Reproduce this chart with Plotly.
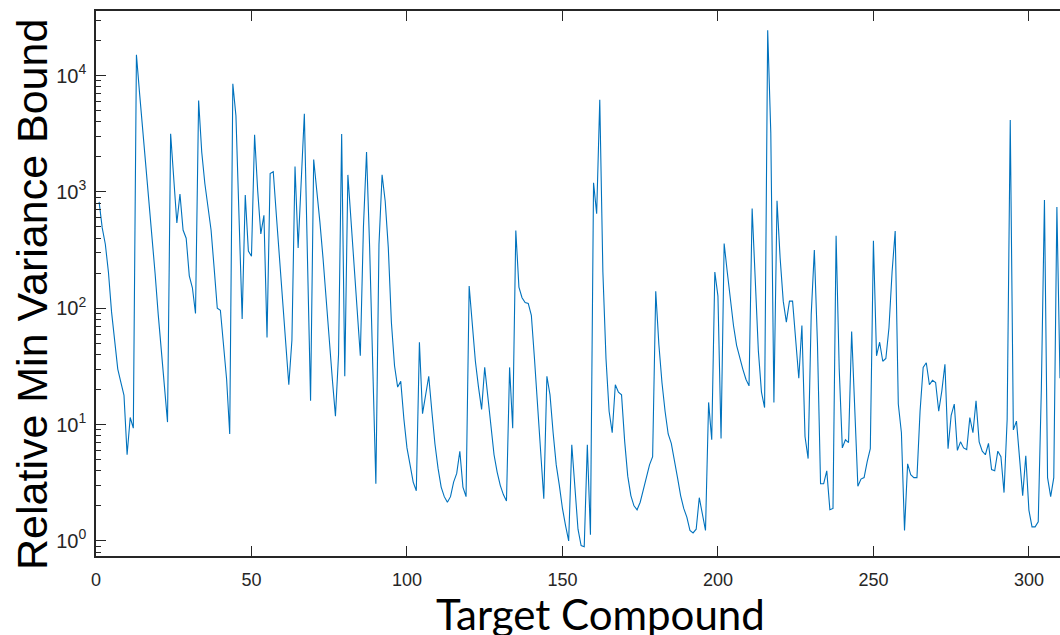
import plotly.graph_objects as go

# Relative minimum-variance bound for each target compound (compound index 1..310)
compound = list(range(1, 311))
bound = [
    820, 490, 355, 204, 93, 49, 30, 23, 17.8, 5.5,
    11.5, 9.3, 15100, 7100, 3550, 1780, 890, 420, 200, 89,
    42, 20, 10.5, 3160, 1260, 540, 960, 470, 400, 190,
    150, 90, 6100, 2200, 1180, 780, 470, 220, 100, 96,
    49, 24.5, 8.3, 8500, 4500, 700, 81, 940, 310, 280,
    3100, 1020, 435, 630, 56, 1440, 1490, 630, 275, 120,
    51, 22, 53, 1650, 330, 1260, 4700, 270, 16, 1900,
    1050, 550, 270, 115, 49, 24.5, 11.8, 40, 3150, 26,
    1400, 550, 235, 87, 39, 500, 2200, 330, 37, 3.1,
    355, 1400, 830, 330, 75, 32, 21, 23.5, 11.2, 6.3,
    4.5, 3.2, 2.7, 51, 12.4, 18, 26, 13, 6.8, 4.2,
    2.9, 2.4, 2.15, 2.4, 3.2, 3.8, 5.9, 2.9, 2.4, 155,
    76, 35, 21, 13.5, 31, 18, 9.8, 5.5, 3.9, 3.0,
    2.5, 2.2, 31, 9.3, 465, 152, 123, 112, 110, 87,
    37, 13.8, 5.5, 2.3, 26, 18, 8.5, 4.5, 3.0, 1.9,
    1.35, 1.0, 6.7, 2.75, 1.26, 0.91, 0.89, 6.7, 1.13, 1200,
    650, 6200, 205, 37, 13, 8.5, 22, 19, 18, 7.2,
    3.6, 2.45, 2.0, 1.85, 2.15, 2.75, 3.6, 4.5, 5.3, 140,
    49, 23, 13, 8.3, 6.9, 5.1, 3.5, 2.45, 1.9, 1.6,
    1.23, 1.17, 1.26, 2.35, 1.65, 1.23, 15.5, 7.4, 205, 127,
    7.6, 360, 205, 116, 71, 48, 37, 30, 24.5, 21.5,
    720, 163, 43, 19, 14, 24500, 3200, 15.5, 840, 270,
    115, 76, 115, 115, 52, 25, 71, 7.9, 5.1, 89,
    316, 50, 3.1, 3.1, 4.0, 1.85, 1.9, 420, 30, 6.3,
    7.4, 7.0, 63, 13, 2.95, 3.4, 3.5, 4.8, 6.2, 380,
    39, 51, 35, 37, 68, 205, 460, 15, 8.5, 1.23,
    4.6, 3.7, 3.5, 3.5, 13, 31, 34, 22, 24, 23,
    13, 19.5, 33, 6.2, 12, 15, 6.0, 7.1, 6.3, 6.1,
    11.5, 8.5, 16, 7.1, 5.9, 5.5, 6.9, 4.1, 4.0, 5.9,
    5.3, 2.6, 11, 4150, 9.0, 10.7, 5.5, 2.45, 5.4, 1.84,
    1.32, 1.32, 1.46, 20, 850, 3.5, 2.4, 3.5, 740, 25,
]

x_ticks = [0, 50, 100, 150, 200, 250, 300]
y_ticks = [1, 10, 100, 1000, 10000]
y_tick_text = ["10<sup>0</sup>", "10<sup>1</sup>", "10<sup>2</sup>",
               "10<sup>3</sup>", "10<sup>4</sup>"]
y_minor = [m * 10 ** e for e in range(-1, 5) for m in range(2, 10)]

AX = "#262626"
W, H = 1060, 635
L, R, T, B = 96, 0, 11, 79

fig = go.Figure()
fig.add_trace(go.Scatter(
    x=compound, y=bound, mode="lines",
    line=dict(color="#0072BD", width=1.1),
    showlegend=False, hoverinfo="x+y",
))

fig.update_layout(
    width=W, height=H,
    margin=dict(l=L, r=R, t=T, b=B, pad=0),
    paper_bgcolor="white", plot_bgcolor="white",
    xaxis=dict(
        range=[0, 310], tickvals=x_ticks,
        ticks="inside", ticklen=10, tickwidth=1.2, tickcolor=AX,
        showline=True, linecolor=AX, linewidth=1.6, mirror="allticks",
        showgrid=False, zeroline=False,
        tickfont=dict(family="Liberation Sans, Arial", size=18, color=AX),
        ticklabelstandoff=7,
    ),
    yaxis=dict(
        type="log", range=[-0.13, 4.555],
        tickvals=y_ticks, ticktext=y_tick_text,
        ticks="inside", ticklen=10, tickwidth=1.2, tickcolor=AX,
        minor=dict(tickvals=y_minor, ticks="inside", ticklen=5, tickwidth=1, tickcolor=AX),
        showline=True, linecolor=AX, linewidth=1.6, mirror=False,
        showgrid=False, zeroline=False,
        tickfont=dict(family="Liberation Sans, Arial", size=20, color=AX),
        ticklabelstandoff=4,
    ),
    annotations=[
        dict(text="Relative Min Variance Bound", textangle=-90,
             xref="paper", yref="paper",
             x=(32 - L) / (W - L - R), y=(H - B - 295) / (H - T - B),
             xanchor="center", yanchor="middle", showarrow=False,
             font=dict(family="Liberation Sans, Arial", size=43, color="black")),
        dict(text="Target Compound",
             xref="paper", yref="paper",
             x=(600 - L) / (W - L - R), y=(H - B - 614) / (H - T - B),
             xanchor="center", yanchor="middle", showarrow=False,
             font=dict(family="Lato, Open Sans", size=42, color="black")),
    ],
)

fig.write_html("out.html")
